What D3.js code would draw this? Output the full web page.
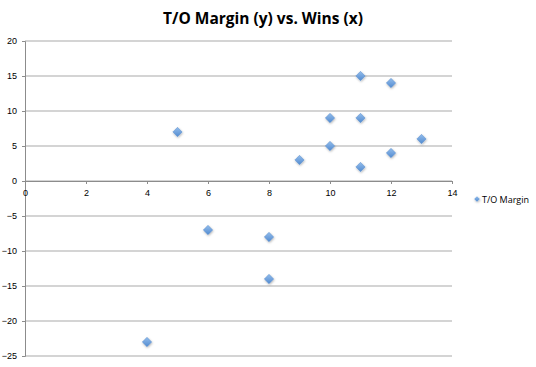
<!DOCTYPE html>
<html>
<head>
<meta charset="utf-8">
<script src="https://cdn.jsdelivr.net/npm/d3@7"></script>
<style>
  body { margin: 0; background: #fff; }
  svg { display: block; font-family: "Open Sans", "Liberation Sans", sans-serif; }
</style>
</head>
<body>
<div id="chart"></div>
<script>
const wins = [4, 5, 6, 8, 8, 9, 10, 10, 11, 11, 11, 12, 12, 13];
const toMargin = [-23, 7, -7, -8, -14, 3, 9, 5, 15, 9, 2, 14, 4, 6];
const xTicks = [0, 2, 4, 6, 8, 10, 12, 14];
const yTicks = [20, 15, 10, 5, 0, -5, -10, -15, -20, -25];
const seriesName = "T/O Margin";

const width = 536, height = 367;
const margin = { top: 41, left: 25, right: 84, bottom: 11 };

const svg = d3.select("#chart").append("svg")
  .attr("width", width)
  .attr("height", height);

const defs = svg.append("defs");
const grad = defs.append("linearGradient")
  .attr("id", "diamondFill")
  .attr("x1", 0).attr("y1", 0).attr("x2", 0).attr("y2", 1);
grad.append("stop").attr("offset", "0%").attr("stop-color", "#93bdec");
grad.append("stop").attr("offset", "100%").attr("stop-color", "#528bd0");

const shadow = defs.append("filter").attr("id", "shadow")
  .attr("x", "-50%").attr("y", "-50%").attr("width", "200%").attr("height", "200%");
shadow.append("feDropShadow")
  .attr("dx", 0.5).attr("dy", 1).attr("stdDeviation", 0.8)
  .attr("flood-color", "#000").attr("flood-opacity", 0.3);

const x = d3.scaleLinear().domain([0, 14]).range([margin.left, width - margin.right]);
const y = d3.scaleLinear().domain([-25, 20]).range([height - margin.bottom, margin.top]);

// title
svg.append("text")
  .attr("x", 263).attr("y", 24)
  .attr("text-anchor", "middle")
  .attr("font-size", 15.5)
  .attr("font-weight", "bold")
  .attr("fill", "#000")
  .text("T/O Margin (y) vs. Wins (x)");

// gridlines
svg.append("g")
  .selectAll("line")
  .data(yTicks)
  .join("line")
  .attr("x1", x(0)).attr("x2", x(14))
  .attr("y1", d => y(d)).attr("y2", d => y(d))
  .attr("stroke", "#c6c6c6")
  .attr("stroke-width", 1.5);

// y axis
const yAxis = svg.append("g")
  .attr("transform", `translate(${x(0)},0)`)
  .call(d3.axisLeft(y).tickValues(yTicks).tickSize(3).tickPadding(5).tickFormat(d3.format("d")));
yAxis.select(".domain").attr("stroke", "#8c8c8c");
yAxis.selectAll(".tick line").attr("stroke", "#8c8c8c");
yAxis.selectAll("text").attr("font-size", 9).attr("fill", "#000");

// x axis at y = 0
const xAxis = svg.append("g")
  .attr("transform", `translate(0,${y(0)})`)
  .call(d3.axisBottom(x).tickValues(xTicks).tickSize(3).tickPadding(6));
xAxis.select(".domain").attr("stroke", "#8c8c8c").attr("stroke-width", 1);
xAxis.selectAll(".tick line").attr("stroke", "#8c8c8c");
xAxis.selectAll("text").attr("font-size", 9).attr("fill", "#000");

// diamonds
const diamond = d3.symbol().type(d3.symbolDiamond2).size(56);
svg.append("g")
  .selectAll("path")
  .data(wins.map((w, i) => ({ w, m: toMargin[i] })))
  .join("path")
  .attr("d", diamond)
  .attr("transform", d => `translate(${x(d.w)},${y(d.m)})`)
  .attr("fill", "url(#diamondFill)")
  .attr("stroke", "#5d8fcc")
  .attr("stroke-width", 0.5)
  .attr("filter", "url(#shadow)");

// legend
const legend = svg.append("g").attr("transform", "translate(477,199)");
legend.append("path")
  .attr("d", d3.symbol().type(d3.symbolDiamond2).size(20))
  .attr("fill", "url(#diamondFill)")
  .attr("filter", "url(#shadow)");
legend.append("text")
  .attr("x", 5).attr("y", 3.5)
  .attr("font-size", 9)
  .attr("fill", "#000")
  .text(seriesName);
</script>
</body>
</html>
